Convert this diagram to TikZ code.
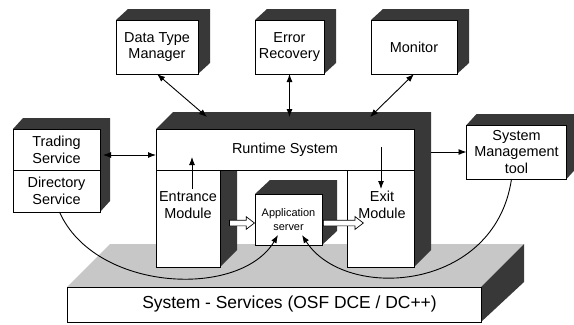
\documentclass[tikz,border=0pt]{standalone}
\usepackage{fontspec}
\setmainfont{Liberation Sans}
\usetikzlibrary{arrows.meta,calc,shapes.arrows}
\newcommand\boxfont{\fontsize{14.5}{17}\selectfont}
\newcommand\smallboxfont{\fontsize{11}{13.5}\selectfont}
\newcommand\basefont{\fontsize{17.5}{20}\selectfont}
% \castdepth{node}{dx}{dy}: shaded top and right faces of a solid block
\newcommand\castdepth[3]{%
  \fill[shadeface] (#1.north west) -- ++(#2,-#3)
    -- ($(#1.north east)+(#2,-#3)$) -- ($(#1.south east)+(#2,-#3)$)
    -- (#1.south east) -- (#1.north east) -- cycle;}
\pgfdeclarelayer{back}
\pgfsetlayers{back,main}
\begin{document}
\begin{tikzpicture}[x=1bp, y=-1bp,
  >={Latex[length=8bp,width=6bp]},
  face/.style={draw, fill=white, line width=0.8bp, inner sep=0pt, outer sep=0pt,
    align=center, font=\boxfont},
  txt/.style={inner sep=0pt, align=center, font=\boxfont},
  shadeface/.style={fill=black!78},
  basetop/.style={fill=black!22},
  link/.style={line width=0.9bp},
  blockarrow/.style={single arrow, draw, fill=white, line width=0.7bp,
    inner sep=2.5bp, single arrow head extend=3.5bp,
    single arrow tip angle=75, minimum height=#1}]
\useasboundingbox (0,0) rectangle (574,324);

% platform
\node[face, minimum width=414bp, minimum height=35bp] (base) at (274,304.5) {};
\node[txt, font=\basefont] (baselbl) at (289.5,304) {System - Services (OSF DCE / DC++)};

% runtime system with its two legs
\node[face, minimum width=258bp, minimum height=41bp] (rts) at (285,149.5) {Runtime System};
\node[face, minimum width=64bp, minimum height=97bp] (ent) at (188,218.5) {};
\node[face, minimum width=67bp, minimum height=97bp] (ext) at (380.5,218.5) {};
\node[txt] (entlbl) at (188,205.5) {Entrance\\Module};
\node[txt] (extlbl) at (382,205) {Exit\\Module};

% application server
\node[face, font=\smallboxfont, minimum width=67bp, minimum height=51bp] (app) at (288.5,219.5) {Application\\server};

% surrounding services
\node[face, minimum width=82bp, minimum height=54bp] (dtm) at (157,47) {Data Type\\Manager};
\node[face, minimum width=69bp, minimum height=54bp] (err) at (289.5,47) {Error\\Recovery};
\node[face, minimum width=86bp, minimum height=54bp] (mon) at (414,47) {Monitor};
\node[face, minimum width=87bp, minimum height=41bp] (trd) at (56.5,149.5) {Trading\\Service};
\node[face, minimum width=87bp, minimum height=42bp] (dir) at (56.5,191) {Directory\\Service};
\node[face, minimum width=100bp, minimum height=54bp] (smt) at (516.5,152) {System\\Management\\tool};

% depth faces
\begin{pgfonlayer}{back}
  \fill[basetop] (base.north west) -- ++(43,-43) -- ($(base.north east)+(43,-43)$)
    -- (base.north east) -- cycle;
  \fill[shadeface] (base.north east) -- ++(43,-43) -- ($(base.south east)+(43,-40)$)
    -- (base.south east) -- cycle;
  \fill[shadeface] (rts.north west) -- ++(17,-17) -- ($(rts.north east)+(17,-17)$)
    -- ($(ext.south east)+(17,-17)$) -- (ext.south east) -- (rts.north east) -- cycle;
  \fill[shadeface] (ent.north east) -- ++(17,0) -- ($(ent.south east)+(17,-17)$)
    -- (ent.south east) -- cycle;
  \castdepth{app}{15}{14}
  \castdepth{dtm}{12}{11}
  \castdepth{err}{12}{11}
  \castdepth{mon}{12}{11}
  \castdepth{smt}{10}{11}
  \fill[shadeface] (trd.north west) -- ++(10,-11) -- ($(trd.north east)+(10,-11)$)
    -- ($(dir.south east)+(10,-11)$) -- (dir.south east) -- (trd.north east) -- cycle;
\end{pgfonlayer}

% data flow inside the runtime
\node[blockarrow=25bp, anchor=tip] (arr1) at ($(app.west)+(0,3.5)$) {};
\node[blockarrow=40bp, anchor=tail] (arr2) at ($(app.east)+(1,3.5)$) {};

% connectors
\coordinate (tp1) at (207,117);
\coordinate (tp2) at (289.5,117);
\coordinate (tp3) at (370,117);
\draw[link,<->] (dtm.south) -- (tp1);
\draw[link,<->] (err.south) -- (tp2);
\draw[link,<->] (mon.south) -- (tp3);
\coordinate (tsOut) at (103,155);
\draw[link,<->] (tsOut) -- (tsOut -| rts.west);
\coordinate (rtsSide) at (431,152);
\draw[link,->] (rtsSide) -- (smt.west);
\coordinate (entUp) at (192,189);
\coordinate (entTip) at (192,157);
\draw[link,->] (entUp) -- (entTip);
\coordinate (extTop) at (381,147);
\coordinate (extTip) at (381,189);
\draw[link,->] (extTop) -- (extTip);
\coordinate (appIn1) at (278,235);
\coordinate (appIn2) at (302,235);
\draw[link,->] ($(dir.south)+(3,0)$) .. controls (95,292) and (240,299) .. (appIn1);
\draw[link,->] ($(smt.south)+(-5,0)$) .. controls (495,292) and (345,302) .. (appIn2);
\end{tikzpicture}
\end{document}
